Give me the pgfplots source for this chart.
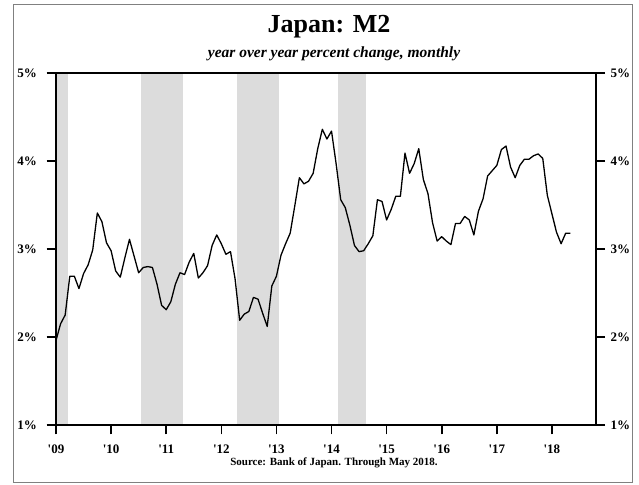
\documentclass[border=0pt]{standalone}
\usepackage{pgfplots}
\pgfplotsset{compat=1.18}
\usepackage{pgfplotstable}
\usepackage{fontspec}
\setmainfont{Liberation Serif}
\definecolor{band}{HTML}{DCDCDC}
\definecolor{frame}{HTML}{808080}
\pgfplotstableread{
m v
0 1.96
1 2.15
2 2.25
3 2.69
4 2.69
5 2.55
6 2.72
7 2.82
8 2.99
9 3.41
10 3.31
11 3.07
12 2.98
13 2.75
14 2.68
15 2.90
16 3.11
17 2.92
18 2.73
19 2.79
20 2.80
21 2.79
22 2.60
23 2.36
24 2.31
25 2.40
26 2.60
27 2.73
28 2.71
29 2.85
30 2.95
31 2.67
32 2.73
33 2.81
34 3.04
35 3.16
36 3.06
37 2.94
38 2.97
39 2.66
40 2.19
41 2.26
42 2.29
43 2.45
44 2.43
45 2.27
46 2.12
47 2.58
48 2.69
49 2.93
50 3.06
51 3.18
52 3.49
53 3.81
54 3.74
55 3.77
56 3.86
57 4.14
58 4.36
59 4.25
60 4.34
61 3.97
62 3.56
63 3.47
64 3.27
65 3.04
66 2.97
67 2.98
68 3.06
69 3.15
70 3.56
71 3.54
72 3.33
73 3.45
74 3.60
75 3.60
76 4.09
77 3.86
78 3.97
79 4.14
80 3.79
81 3.63
82 3.30
83 3.09
84 3.14
85 3.09
86 3.05
87 3.29
88 3.29
89 3.37
90 3.33
91 3.16
92 3.43
93 3.57
94 3.83
95 3.89
96 3.95
97 4.13
98 4.17
99 3.93
100 3.81
101 3.95
102 4.02
103 4.02
104 4.06
105 4.08
106 4.03
107 3.61
108 3.40
109 3.19
110 3.06
111 3.18
112 3.18
}\mtwo
\newcommand{\q}{\textquotesingle}
\begin{document}
\begin{tikzpicture}[x=1pt,y=1pt]
\useasboundingbox (-56,-59) rectangle (583,425);
\draw[frame, line width=0.8pt] (-43,-57) rectangle (576,421);
\node[font=\bfseries\fontsize{26}{26}\selectfont] at (273,398) {Japan: M2};
\node[font=\bfseries\itshape\fontsize{15.5}{15.5}\selectfont] at (278,371) {year over year percent change, monthly};
\node[font=\bfseries\fontsize{11}{11}\selectfont] at (278,-38) {Source: Bank of Japan. Through May 2018.};
\begin{axis}[
  at={(0,0)}, anchor=south west,
  scale only axis, width=540pt, height=352pt,
  xmin=0, xmax=117.6, ymin=1, ymax=5,
  axis on top,
  axis line style={line width=1.6pt},
  tick style={line width=1.6pt, black},
  tick align=outside, major tick length=9.5pt,
  xtick={0,12,...,108},
  xticklabels={\q09,\q10,\q11,\q12,\q13,\q14,\q15,\q16,\q17,\q18},
  ytick={1,2,3,4,5},
  yticklabels={1\%,2\%,3\%,4\%,5\%},
  xtick pos=bottom, ytick pos=left,
  ticklabel style={font=\bfseries\fontsize{13}{13}\selectfont},
  yticklabel style={xshift=-6pt},
  xticklabel style={yshift=-7pt},
]
\addplot[fill=band, draw=none] coordinates {(0,1)(0,5)(2.6,5)(2.6,1)} --cycle;
\addplot[fill=band, draw=none] coordinates {(18.5,1)(18.5,5)(27.6,5)(27.6,1)} --cycle;
\addplot[fill=band, draw=none] coordinates {(39.5,1)(39.5,5)(48.6,5)(48.6,1)} --cycle;
\addplot[fill=band, draw=none] coordinates {(61.4,1)(61.4,5)(67.6,5)(67.6,1)} --cycle;
\addplot[black, line width=1.3pt, line join=round] table[x=m, y=v] {\mtwo};
\end{axis}
\begin{axis}[
  at={(0,0)}, anchor=south west,
  scale only axis, width=540pt, height=352pt,
  xmin=0, xmax=117.6, ymin=1, ymax=5,
  axis x line=none, axis y line*=right,
  axis line style={line width=1.6pt},
  tick style={line width=1.6pt, black},
  tick align=outside, major tick length=9pt,
  ytick={1,2,3,4,5},
  yticklabels={1\%,2\%,3\%,4\%,5\%},
  ticklabel style={font=\bfseries\fontsize{13}{13}\selectfont},
  yticklabel style={xshift=2pt},
]
\addplot[draw=none] coordinates {(0,1)};
\end{axis}
\end{tikzpicture}
\end{document}
